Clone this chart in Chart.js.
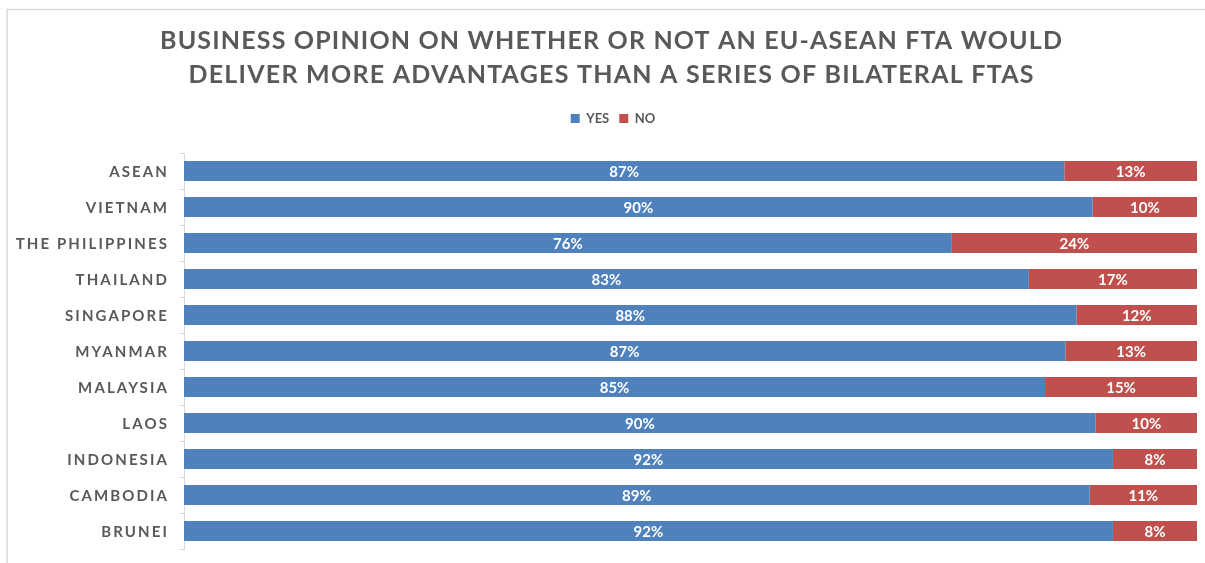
<!DOCTYPE html>
<html><head><meta charset="utf-8">
<script src="https://cdn.jsdelivr.net/npm/chart.js@4/dist/chart.umd.min.js"></script>
<style>html,body{margin:0;padding:0;background:#fff;} #wrap{width:1205px;height:563px;position:relative;}</style>
</head><body><div id="wrap"><canvas id="c" width="1205" height="563"></canvas></div>
<script>
const titleLines = ['BUSINESS OPINION ON WHETHER OR NOT AN EU-ASEAN FTA WOULD', 'DELIVER MORE ADVANTAGES THAN A SERIES OF BILATERAL FTAS'];
const categories = ['ASEAN', 'VIETNAM', 'THE PHILIPPINES', 'THAILAND', 'SINGAPORE', 'MYANMAR', 'MALAYSIA', 'LAOS', 'INDONESIA', 'CAMBODIA', 'BRUNEI'];
const seriesNames = ['YES', 'NO'];
const yesValues = [86.9, 89.7, 75.8, 83.4, 88.1, 87.0, 85.0, 90.0, 91.7, 89.4, 91.7];
const noValues = [13.1, 10.3, 24.2, 16.6, 11.9, 13.0, 15.0, 10.0, 8.3, 10.6, 8.3];

const FONT = 'Lato, "Open Sans", sans-serif';
const GREY = '#595959';

const deco = {
  id: 'deco',
  beforeDraw(chart) {
    const ctx = chart.ctx;
    ctx.save();
    ctx.strokeStyle = '#d9d9d9';
    ctx.lineWidth = 1.5;
    ctx.beginPath();
    ctx.moveTo(7, chart.height);
    ctx.lineTo(7, 9.5);
    ctx.lineTo(chart.width, 9.5);
    ctx.stroke();
    ctx.fillStyle = GREY;
    ctx.font = 'bold 25px ' + FONT;
    ctx.textBaseline = 'middle';
    ctx.textAlign = 'left';
    const targets = [902, 845];
    const ys = [41, 75];
    titleLines.forEach((t, i) => {
      ctx.letterSpacing = '0px';
      const w0 = ctx.measureText(t).width;
      const sp = (targets[i] - w0) / (t.length - 1);
      ctx.letterSpacing = sp + 'px';
      ctx.fillText(t, 611 - targets[i] / 2, ys[i]);
    });
    ctx.restore();
  },
  afterDraw(chart) {
    const ctx = chart.ctx;
    const ys = chart.scales.y;
    ctx.save();
    ctx.fillStyle = GREY;
    ctx.font = 'bold 15px ' + FONT;
    ctx.textBaseline = 'middle';
    ctx.textAlign = 'right';
    ctx.letterSpacing = '2.1px';
    categories.forEach((c, i) => {
      ctx.fillText(c, 169, ys.getPixelForValue(i) + 1);
    });
    ctx.letterSpacing = '0px';
    ctx.fillStyle = '#ffffff';
    ctx.textAlign = 'center';
    ctx.font = 'bold 15px ' + FONT;
    chart.data.datasets.forEach((ds, di) => {
      const meta = chart.getDatasetMeta(di);
      meta.data.forEach((el, i) => {
        const v = ds.data[i];
        ctx.fillText(Math.round(v) + '%', (el.x + el.base) / 2, el.y + 1);
      });
    });
    ctx.restore();
  }
};

new Chart(document.getElementById('c'), {
  type: 'bar',
  data: {
    labels: categories,
    datasets: [
      { label: seriesNames[0], data: yesValues, backgroundColor: '#4F81BD', borderWidth: 0, categoryPercentage: 0.556, barPercentage: 1 },
      { label: seriesNames[1], data: noValues, backgroundColor: '#C0504D', borderWidth: 0, categoryPercentage: 0.556, barPercentage: 1 }
    ]
  },
  options: {
    indexAxis: 'y',
    responsive: false,
    animation: false,
    layout: { padding: { top: 102, left: 29, right: 8, bottom: 14 } },
    plugins: {
      title: { display: false },
      tooltip: { enabled: false },
      legend: {
        display: true,
        position: 'top',
        labels: { boxWidth: 9, boxHeight: 9, padding: 10, color: GREY, font: { family: FONT, size: 13, weight: 'bold' } }
      }
    },
    scales: {
      x: {
        stacked: true, min: 0, max: 100, position: 'top', display: true,
        ticks: { display: false }, grid: { display: false }, border: { display: false },
        afterFit(s) { s.height = 18; }
      },
      y: {
        stacked: true,
        ticks: { display: false },
        grid: { display: true, drawOnChartArea: false, drawTicks: true, tickLength: 4, color: '#d9d9d9', offset: true },
        border: { display: true, color: '#d9d9d9', width: 1 },
        afterFit(s) { s.width = 155; }
      }
    }
  },
  plugins: [deco]
});
</script></body></html>
